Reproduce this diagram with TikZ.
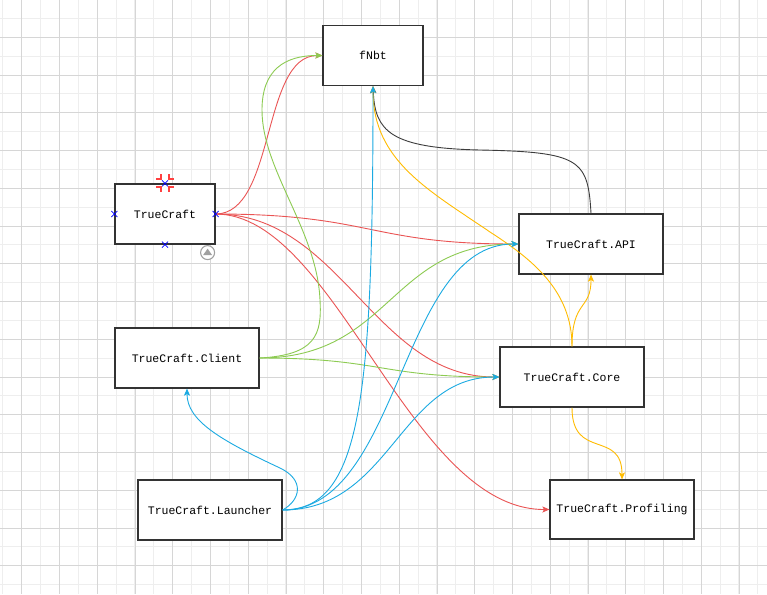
\documentclass[tikz,border=0pt]{standalone}
\usepackage{fontspec}
\newfontfamily\boxfont{Liberation Mono}
\usetikzlibrary{arrows.meta}
\definecolor{gridminor}{RGB}{238,238,238}
\definecolor{gridmajor}{RGB}{214,214,214}
\definecolor{boxline}{RGB}{51,51,51}
\definecolor{redline}{RGB}{234,84,84}
\definecolor{greenline}{RGB}{141,203,82}
\definecolor{blueline}{RGB}{27,170,226}
\definecolor{yellowline}{RGB}{255,188,0}
\definecolor{darkline}{RGB}{60,60,60}
\definecolor{handlegray}{RGB}{160,160,160}
\tikzset{
  module/.style={draw=boxline, line width=1.2pt, fill=white, inner sep=0pt,
    minimum height=60pt, font=\boxfont\fontsize{11.5}{13}\selectfont},
  small/.style={module, minimum width=100pt},
  wide/.style={module, minimum width=144pt},
  dep/.style={line width=0.9pt, -{Stealth[length=7pt, width=6pt, inset=1.5pt]}},
  xmark/.style={draw=blue, line width=0.8pt},
  cropmark/.style={draw=red!75, line width=2pt},
}

\begin{document}
\begin{tikzpicture}[x=1pt, y=-1pt]
        \useasboundingbox (0,0) rectangle (767,594);
        \fill[white] (0,0) rectangle (767,594);

        % Draw grid
        \foreach \i in {0,...,40}
            \draw[gridminor, line width=0.9pt] ({2.8+18.875*\i},0) -- ({2.8+18.875*\i},594);
        \foreach \i in {1,...,31}
            \draw[gridminor, line width=0.9pt] (0,{-0.45+18.875*\i}) -- (767,{-0.45+18.875*\i});
        \foreach \i in {0,...,19}
            \draw[gridmajor, line width=0.9pt] ({21.7+37.75*\i},0) -- ({21.7+37.75*\i},594);
        \foreach \i in {0,...,14}
            \draw[gridmajor, line width=0.9pt] (0,{37.3+37.75*\i}) -- (767,{37.3+37.75*\i});

        % Place the modules
        \node[small] (fnbt) at (373,55.5) {fNbt};
        \node[small] (tc) at (165,214) {TrueCraft};
        \node[wide] (api) at (591,244) {TrueCraft.API};
        \node[wide] (core) at (572,377) {TrueCraft.Core};
        \node[wide] (client) at (187,358) {TrueCraft.Client};
        \node[wide] (launcher) at (210,510) {TrueCraft.Launcher};
        \node[wide, minimum height=59pt] (prof) at (622,509.5) {TrueCraft.Profiling};

        % Bend points
        \coordinate (g1) at (320,300);
        \coordinate (g2) at (262,110);
        \coordinate (k1) at (480,150);
        \coordinate (y1) at (490,232);
        \coordinate (b1) at (280,468);

        % Draw dependencies of TrueCraft
        \draw[dep, redline] (tc.east) .. controls +(60,0) and +(-61,0) .. (fnbt.west);
        \draw[dep, redline] (tc.east) .. controls +(155,0) and +(-149,0) .. (api.west);
        \draw[dep, redline] (tc.east) .. controls +(125,0) and +(-125,0) .. (core.west);
        \draw[dep, redline] (tc.east) .. controls +(120,0) and +(-140,0) .. (prof.west);

        % Draw dependencies of TrueCraft.Client
        \draw[dep, greenline] (client.east) .. controls +(56,-3) and +(2,35) .. (g1)
            .. controls +(-3,-70) and +(0,60) .. (g2)
            .. controls +(0,-40) and +(-38,0) .. (fnbt.west);
        \draw[dep, greenline] (client.east) .. controls +(131,0) and +(-129,0) .. (api.west);
        \draw[dep, greenline] (client.east) .. controls +(121,0) and +(-120,0) .. (core.west);

        % Draw dependency of TrueCraft.API
        \draw[dep, darkline] (api.north) .. controls +(-3,-54) and +(100,2) .. (k1)
            .. controls +(-90,-2) and +(2,45) .. (fnbt.south);

        % Draw dependencies of TrueCraft.Core
        \draw[dep, yellowline] (core.north) .. controls +(0,-57) and +(40,26) .. (y1)
            .. controls +(-60,-41) and +(0,75) .. (fnbt.south);
        \draw[dep, yellowline] (core.north) .. controls +(0,-47) and +(0,36) .. (api.south);
        \draw[dep, yellowline] (core.south) .. controls +(0,53) and +(0,-50) .. (prof.north);

        % Draw dependencies of TrueCraft.Launcher
        \draw[dep, blueline] (launcher.east) .. controls +(18,-10) and +(25,12) .. (b1)
            .. controls +(-60,-28) and +(0,32) .. (client.south);
        \draw[dep, blueline] (launcher.east) .. controls +(78,0) and +(0,315) .. (fnbt.south);
        \draw[dep, blueline] (launcher.east) .. controls +(118,0) and +(-119,0) .. (api.west);
        \draw[dep, blueline] (launcher.east) .. controls +(108,0) and +(-100,0) .. (core.west);

        % Mark the selected module
        \foreach \a in {west,east,south,north}
            \draw[xmark] (tc.\a) +(-3,-3) -- +(3,3) +(-3,3) -- +(3,-3);
        \foreach \sx in {-1,1}
            \foreach \sy in {-1,1}
                \draw[cropmark] (tc.north) ++(9*\sx,4*\sy) -- ++(-5*\sx,0) -- ++(0,5*\sy);
        \coordinate (handle) at ([shift={(-8,8)}]tc.south east);
        \draw[handlegray, line width=1.1pt, fill=white] (handle) circle (7);
        \fill[handlegray] ([shift={(0,-4)}]handle) -- ([shift={(4.5,2.5)}]handle) -- ([shift={(-4.5,2.5)}]handle) -- cycle;
\end{tikzpicture}
\end{document}
